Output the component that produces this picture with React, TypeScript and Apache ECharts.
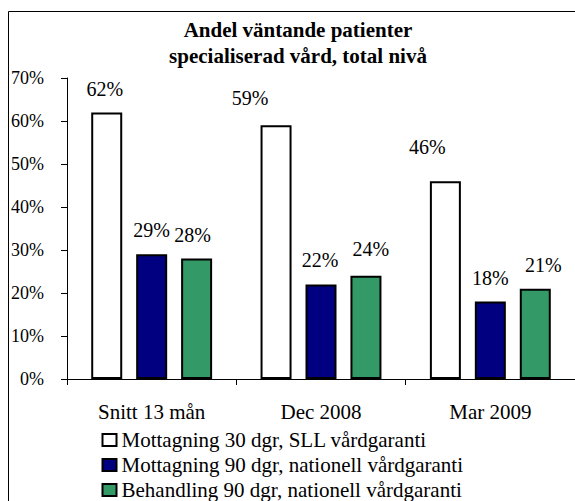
import React, { useEffect, useRef } from "react";
import * as echarts from "echarts";

const categories = ["Snitt 13 mån", "Dec 2008", "Mar 2009"];
const seriesNames = [
  "Mottagning 30 dgr, SLL vårdgaranti",
  "Mottagning 90 dgr, nationell vårdgaranti",
  "Behandling 90 dgr, nationell vårdgaranti",
];
const mottagning30 = [62, 59, 46];
const mottagning90 = [29, 22, 18];
const behandling90 = [28, 24, 21];
const yTicks = [0, 10, 20, 30, 40, 50, 60, 70];
const titleLines = ["Andel väntande patienter", "specialiserad vård, total nivå"];

// layout only: per-label nudges [dx, dy]
const labelNudges = [
  [[-2, 1], [-26, -3], [-18, -10]],
  [[0, 0], [-1, 0], [0, 0]],
  [[-4, 0], [5, -3], [8, 0]],
];
const colors = ["#ffffff", "#000080", "#339966"];

const FONT = "'Liberation Serif', 'Times New Roman', serif";

export default function App() {
  const ref = useRef<HTMLDivElement>(null);
  useEffect(() => {
    if (!ref.current) return;
    const chart = echarts.init(ref.current, null, { renderer: "svg" });
    const values = [mottagning30, mottagning90, behandling90];
    const option = {
      animation: false,
      backgroundColor: "#ffffff",
      textStyle: { fontFamily: FONT, color: "#000" },
      graphic: [
        {
          type: "rect",
          shape: { x: 8.5, y: 11.5, width: 800, height: 800 },
          style: { fill: "none", stroke: "#000", lineWidth: 1 },
          silent: true,
        },
        ...titleLines.map((t, i) => ({
          type: "text",
          x: 298,
          y: i === 0 ? 29.6 : 55.9,
          style: {
            text: t,
            fontFamily: FONT,
            fontSize: 21,
            fontWeight: "bold",
            fill: "#000",
            align: "center",
            verticalAlign: "middle",
          },
        })),
      ],
      legend: {
        orient: "vertical",
        left: 101.5,
        top: 429.5,
        padding: 0,
        itemWidth: 14,
        itemHeight: 12,
        itemGap: 4,
        icon: "rect",
        selectedMode: false,
        data: seriesNames,
        itemStyle: { borderColor: "#000", borderWidth: 2 },
        textStyle: { fontFamily: FONT, fontSize: 21, color: "#000", lineHeight: 21 },
      },
      grid: { left: 67, top: 78, width: 520.5, height: 301, containLabel: false },
      xAxis: {
        type: "category",
        data: categories,
        axisLine: { show: true, lineStyle: { color: "#000", width: 1 } },
        axisTick: { show: true, length: 6, lineStyle: { color: "#000" } },
        axisLabel: { fontFamily: FONT, fontSize: 21, color: "#000", margin: 22 },
        splitLine: { show: false },
      },
      yAxis: {
        type: "value",
        min: yTicks[0],
        max: yTicks[yTicks.length - 1],
        interval: 10,
        axisLine: { show: true, lineStyle: { color: "#000", width: 1 } },
        axisTick: { show: true, length: 6, lineStyle: { color: "#000" } },
        axisLabel: {
          fontFamily: FONT,
          fontSize: 18,
          color: "#000",
          margin: 23,
          formatter: "{value}%",
        },
        splitLine: { show: false },
      },
      series: seriesNames.map((name, si) => ({
        name,
        type: "bar",
        barWidth: 31,
        barGap: "45%",
        itemStyle: { color: colors[si], borderColor: "#000", borderWidth: 2 },
        label: {
          show: true,
          position: "top",
          distance: 14,
          fontFamily: FONT,
          fontSize: 20,
          color: "#000",
          formatter: "{c}%",
        },
        data: values[si].map((v, ci) => ({
          value: v,
          label: { offset: labelNudges[si][ci] },
        })),
      })),
    };
    chart.setOption(option as any);
    return () => chart.dispose();
  }, []);
  return (
    <div
      ref={ref}
      style={{ position: "absolute", left: 0, top: 0, width: 575, height: 501, overflow: "hidden" }}
    />
  );
}
